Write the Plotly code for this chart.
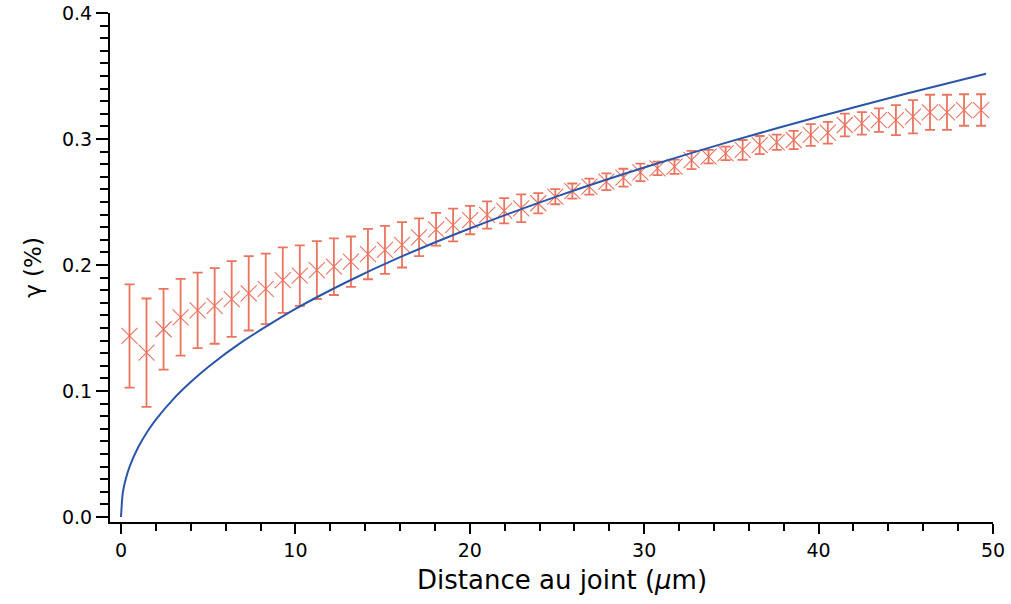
import plotly.graph_objects as go

# Measured points (x in µm, spacing 1000/1024 µm)
step = 0.9765625
n_points = 51
x_pts = [(k + 0.5) * step for k in range(n_points)]

gamma = [0.1437, 0.1304, 0.1490, 0.1585, 0.1640, 0.1675, 0.1730, 0.1775, 0.1810, 0.1880,
         0.1915, 0.1960, 0.1987, 0.2026, 0.2087, 0.2120, 0.2160, 0.2220, 0.2283, 0.2317,
         0.2357, 0.2397, 0.2430, 0.2450, 0.2490, 0.2542, 0.2587, 0.2622, 0.2661, 0.2693,
         0.2735, 0.2767, 0.2780, 0.2833, 0.2860, 0.2886, 0.2913, 0.2952, 0.2974, 0.2992,
         0.3032, 0.3050, 0.3111, 0.3124, 0.3150, 0.3150, 0.3177, 0.3212, 0.3212, 0.3230,
         0.3230]

gamma_err = [0.0410, 0.0430, 0.0320, 0.0305, 0.0300, 0.0300, 0.0300, 0.0295, 0.0280, 0.0260,
             0.0240, 0.0230, 0.0225, 0.0200, 0.0200, 0.0190, 0.0180, 0.0150, 0.0130, 0.0130,
             0.0113, 0.0108, 0.0100, 0.0110, 0.0080, 0.0060, 0.0060, 0.0063, 0.0066, 0.0071,
             0.0069, 0.0053, 0.0056, 0.0072, 0.0053, 0.0053, 0.0079, 0.0072, 0.0060, 0.0072,
             0.0086, 0.0086, 0.0090, 0.0090, 0.0093, 0.0119, 0.0132, 0.0139, 0.0139, 0.0125,
             0.0125]

# Fitted curve, values
fit_x = [0.0, 0.1, 0.25, 0.5, 1.0, 1.5, 2.0, 3.0, 4.0, 5.0, 7.0, 10.0, 13.0, 16.0, 20.0,
         25.0, 30.0, 35.0, 40.0, 45.0, 49.6]
fit_y = [0.0, 0.0189, 0.0290, 0.0402, 0.0557, 0.0675, 0.0773, 0.0936, 0.1071, 0.1191,
         0.1396, 0.1651, 0.1869, 0.2062, 0.2290, 0.2545, 0.2774, 0.2983, 0.3177, 0.3359,
         0.3518]

x_ticks = [0, 10, 20, 30, 40, 50]
y_ticks = [0.0, 0.1, 0.2, 0.3, 0.4]
y_tick_text = ["0.0", "0.1", "0.2", "0.3", "0.4"]

salmon = "#E9745F"
blue = "#2B56A8"

fig = go.Figure()
fig.add_trace(go.Scatter(
    x=x_pts, y=gamma, mode="markers",
    marker=dict(symbol="x-thin", size=16, line=dict(color=salmon, width=1.1), color=salmon),
    error_y=dict(type="data", array=gamma_err, visible=True, color=salmon, thickness=1.8, width=5),
    showlegend=False,
))
fig.add_trace(go.Scatter(
    x=fit_x, y=fit_y, mode="lines", line=dict(color=blue, width=2, shape="spline", smoothing=0.6),
    showlegend=False,
))

font_family = "DejaVu Sans, Verdana, sans-serif"
fig.update_layout(
    width=1011, height=604,
    margin=dict(l=110, r=18, t=13, b=82),
    paper_bgcolor="white", plot_bgcolor="white",
    font=dict(family=font_family, color="black"),
    xaxis=dict(
        range=[-0.63, 50], tickvals=x_ticks, ticktext=[str(v) for v in x_ticks],
        automargin=False, ticklabeloverflow="allow",
        showgrid=False, zeroline=False, showline=True, linecolor="black", linewidth=2,
        ticks="outside", ticklen=10, tickwidth=2, tickcolor="black",
        tickfont=dict(size=19),
        minor=dict(ticks="outside", ticklen=7, tickwidth=1.5, tickcolor="black", dtick=2, tick0=0, showgrid=False),
    ),
    yaxis=dict(
        range=[-0.00397, 0.4], tickvals=y_ticks, ticktext=y_tick_text,
        automargin=False, ticklabeloverflow="allow",
        showgrid=False, zeroline=False, showline=True, linecolor="black", linewidth=2,
        ticks="outside", ticklen=12, tickwidth=2, tickcolor="black",
        tickfont=dict(size=19),
        minor=dict(ticks="outside", ticklen=8, tickwidth=1.5, tickcolor="black", dtick=0.01, tick0=0, showgrid=False),
        title=dict(text="γ (%)", font=dict(size=23), standoff=14),
    ),
    annotations=[dict(
        text="Distance au joint (<i>μ</i>m)", xref="paper", yref="paper",
        x=0.512, y=-0.114, xanchor="center", yanchor="middle",
        showarrow=False, font=dict(size=26),
    )],
)

fig.write_html("out.html", config={"displayModeBar": False},
               post_script="document.body.style.margin='0';")
